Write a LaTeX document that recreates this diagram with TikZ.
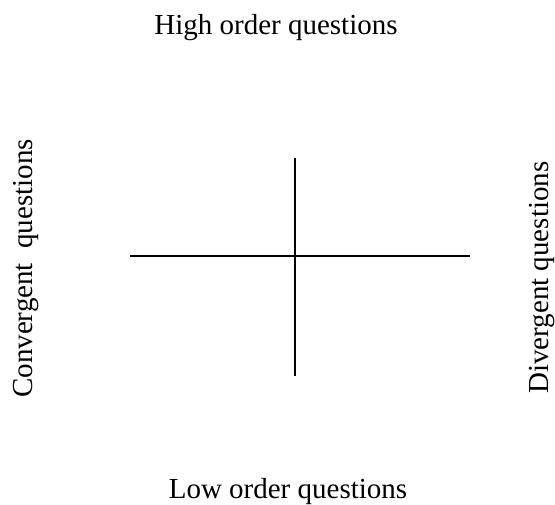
\documentclass[tikz,border=0pt]{standalone}
\usepackage{fontspec}
\setmainfont{Liberation Serif}
\usetikzlibrary{calc}

\begin{document}
\begin{tikzpicture}[
    x=1pt,
    y=-1pt,
    every node/.style={font=\fontsize{29}{34}\selectfont, inner sep=0pt},
    axislabel/.style={anchor=base},
    sidelabel/.style={anchor=base west, rotate=90},
    axis/.style={draw=black, line width=1.6pt}
]
    \useasboundingbox (0,0) rectangle (555,505);

    % axis labels
    \node[axislabel] (high) at (276,35) {High order questions};
    \node[axislabel] (low) at (288,498) {Low order questions};
    \node[sidelabel] (conv) at (32,398) {Convergent\ \ questions};
    \node[sidelabel] (div) at (548,394) {Divergent questions};

    % the two axes
    \coordinate (west) at (130,256);
    \coordinate (east) at (470,256);
    \coordinate (north) at (295,158);
    \coordinate (south) at (295,376);
    \draw[axis] (west) -- (east);
    \draw[axis] (north) -- (south);
\end{tikzpicture}
\end{document}
